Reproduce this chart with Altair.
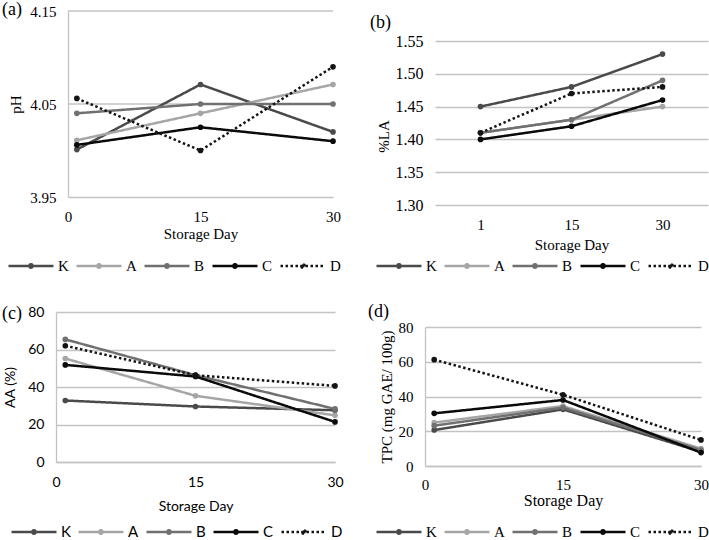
import altair as alt
import pandas as pd

series = ["K", "A", "B", "C", "D"]
days = [1, 15, 30]

ph = {
    "K": [4.001, 4.071, 4.020],
    "A": [4.011, 4.040, 4.071],
    "B": [4.040, 4.050, 4.050],
    "C": [4.006, 4.025, 4.010],
    "D": [4.056, 4.000, 4.090],
}
la = {
    "K": [1.45, 1.48, 1.53],
    "A": [1.41, 1.43, 1.45],
    "B": [1.41, 1.43, 1.49],
    "C": [1.40, 1.42, 1.46],
    "D": [1.41, 1.47, 1.48],
}
aa = {
    "K": [32.8, 29.6, 27.6],
    "A": [55.2, 35.3, 24.9],
    "B": [65.4, 46.3, 28.3],
    "C": [51.8, 45.6, 21.4],
    "D": [62.0, 46.3, 40.6],
}
tpc = {
    "K": [20.7, 32.6, 8.2],
    "A": [25.0, 34.5, 10.0],
    "B": [23.2, 33.6, 9.2],
    "C": [30.3, 38.0, 7.7],
    "D": [61.2, 41.0, 15.0],
}

ph_ticks = [3.95, 4.05, 4.15]
la_ticks = [1.30, 1.35, 1.40, 1.45, 1.50, 1.55]
pct_ticks = [0, 20, 40, 60, 80]
x_ticks = [0, 15, 30]

colors = ["#4a4a4a", "#a6a6a6", "#707070", "#0a0a0a", "#141414"]
dashes = [[1, 0], [1, 0], [1, 0], [1, 0], [2.5, 2.5]]
GRAY = "#c3c3c3"
SERIF = "Liberation Serif"
SANS = "Lato"
SYMBOL = ("M-1,0L1,0M-0.075,0A0.075,0.075,0,1,0,0.075,0"
          "A0.075,0.075,0,1,0,-0.075,0Z")


def frame(d):
    rows = []
    for s in series:
        for day, v in zip(days, d[s]):
            rows.append({"series": s, "day": day, "value": v})
    return pd.DataFrame(rows)


def make_legend(font, lx, ly):
    return alt.Legend(
        title=None, orient="none", legendX=lx, legendY=ly,
        direction="horizontal", columns=5, symbolType=SYMBOL,
        symbolSize=2025, symbolStrokeWidth=2.5, labelFont=font,
        labelFontSize=15, labelColor="#000", labelOffset=3,
        columnPadding=2, padding=0, symbolOpacity=1,
    )


def xq(font, lpad, tpad, fs=15, tfs=15, xrange=None):
    sc = dict(domain=[0, 30], nice=False)
    if xrange is not None:
        sc["range"] = xrange
    return alt.X("day:Q", scale=alt.Scale(**sc),
                 axis=alt.Axis(values=x_ticks, format="d", title="Storage Day",
                               titleFont=font, titleFontSize=tfs,
                               titleFontWeight="normal", titleColor="#000",
                               labelFont=font, labelFontSize=fs,
                               labelColor="#000", labelFlush=False,
                               labelPadding=lpad, titlePadding=tpad,
                               ticks=False, grid=False, domain=True,
                               domainColor=GRAY, domainWidth=1.3))


def panel(d, label, title_dx, title_dy, font, w, h, xenc, ydom, yrange,
          yvals, yfmt, ytitle, ydomain_line, lx, ly, ytitle_y=None,
          ytitle_pad=8, tick_font=15, ytitle_font=15, yoffset=None,
          rule_grid=False):
    df = frame(d)
    leg = make_legend(font, lx, ly)
    color = alt.Color("series:N", sort=series,
                      scale=alt.Scale(domain=series, range=colors), legend=leg)
    dash = alt.StrokeDash("series:N", sort=series,
                          scale=alt.Scale(domain=series, range=dashes), legend=leg)
    yaxis_kw = dict(
        values=yvals, format=yfmt, title=ytitle, titleFont=font,
        titleFontSize=ytitle_font, titleFontWeight="normal", titleColor="#000",
        labelFont=font, labelFontSize=tick_font, labelColor="#000",
        labelPadding=12, titlePadding=ytitle_pad, ticks=False,
        domain=ydomain_line, domainColor=GRAY, domainWidth=1.3,
        grid=not rule_grid, gridColor=GRAY, gridWidth=1.3,
    )
    if ytitle_y is not None:
        yaxis_kw["titleY"] = ytitle_y
    if yoffset is not None:
        yaxis_kw["offset"] = yoffset
    yscale_kw = dict(domain=ydom, nice=False, zero=False)
    if yrange is not None:
        yscale_kw["range"] = yrange
    y = alt.Y("value:Q", scale=alt.Scale(**yscale_kw),
              axis=alt.Axis(**yaxis_kw))
    base = alt.Chart(df)
    layers = []
    if rule_grid:
        gdf = pd.DataFrame({"value": yvals[1:]})
        layers.append(
            alt.Chart(gdf).mark_rule(color=GRAY, strokeWidth=1.3).encode(
                y=y, x=alt.datum(0), x2=alt.datum(30)))
    line = base.mark_line(strokeWidth=2.5).encode(
        x=xenc, y=y, color=color, strokeDash=dash)
    pts = base.mark_point(filled=True, size=32, opacity=1).encode(
        x=xenc, y=y,
        color=alt.Color("series:N", sort=series,
                        scale=alt.Scale(domain=series, range=colors), legend=None))
    layers += [line, pts]
    return alt.layer(*layers).properties(
        width=w, height=h,
        title=alt.TitleParams(label, anchor="start", frame="group", orient="top",
                              font=SERIF, fontSize=18, fontWeight="normal",
                              color="#000", dx=title_dx, dy=title_dy, offset=0),
    )


xo = alt.X("day:O", sort=days,
           axis=alt.Axis(labelAngle=0, title="Storage Day", titleFont=SERIF,
                         titleFontSize=15, titleFontWeight="normal",
                         titleColor="#000", labelFont=SERIF, labelFontSize=15,
                         labelColor="#000", labelPadding=12, titlePadding=5,
                         ticks=False, grid=False, domain=False))

pa = panel(ph, "(a)", -54, 15, SERIF, 277, 186,
           xq(SERIF, 12, 2, xrange=[12, 277]),
           [3.95, 4.15], None, ph_ticks, ".2f", "pH", True, -49, 231,
           ytitle_pad=6, yoffset=-12, rule_grid=True)
pb = panel(la, "(b)", -65, 21, SERIF, 273, 194, xo, [1.30, 1.55], [194, 30],
           la_ticks, ".2f", "%LA", False, -60, 231, ytitle_y=125,
           ytitle_pad=4, tick_font=16)
pc = panel(aa, "(c)", -54, 18, SANS, 279, 150, xq(SANS, 13, 10, 14, 14),
           [0, 80], None, pct_ticks, "d", "AA (%)", True, -46, 196,
           ytitle_pad=10, tick_font=14, ytitle_font=14)
pd_ = panel(tpc, "(d)", -57, 9, SERIF, 276, 154, xq(SERIF, 11, 0, 15, 16),
            [0, 80], [154, 15], pct_ticks, "d", "TPC (mg GAE/ 100g)", True,
            -50, 196, ytitle_pad=4)

row1 = alt.hconcat(pa, pb, spacing=102, bounds="flush").resolve_scale(
    color="independent", strokeDash="independent").resolve_legend(
    color="independent", strokeDash="independent")
row2 = alt.hconcat(pc, pd_, spacing=90, bounds="flush").resolve_scale(
    color="independent", strokeDash="independent").resolve_legend(
    color="independent", strokeDash="independent")

chart = alt.concat(row1, row2, columns=1, align="none", bounds="full",
                   spacing=29).resolve_scale(
    color="independent", strokeDash="independent").resolve_legend(
    color="independent", strokeDash="independent").properties(
    padding={"left": 2, "top": 1, "right": 0, "bottom": 0},
    background="white",
).configure_view(stroke=None)

chart.save("out.html", embed_options={"renderer": "svg", "actions": False})
